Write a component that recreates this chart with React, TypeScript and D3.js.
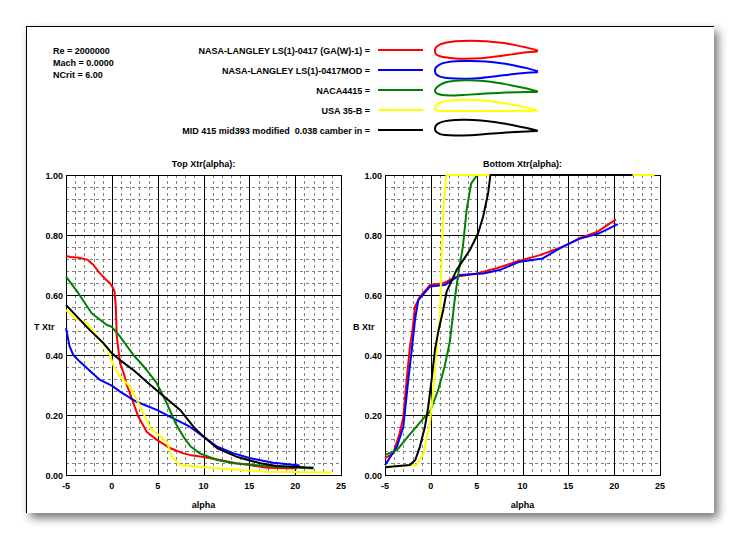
import React from 'react';
import * as d3 from 'd3';

type Pt = [number, number];

// ---------- DATA ----------
const infoLines = ['Re = 2000000', 'Mach = 0.0000', 'NCrit = 6.00'];
const seriesNames = [
  'NASA-LANGLEY LS(1)-0417 (GA(W)-1) =',
  'NASA-LANGLEY LS(1)-0417MOD =',
  'NACA4415 =',
  'USA 35-B =',
  'MID 415 mid393 modified  0.038 camber in =',
];
const seriesColors = ['#ff0000', '#0000ff', '#008000', '#ffff00', '#000000'];
const xTicks = [-5, 0, 5, 10, 15, 20, 25];
const yTicks = [0, 0.2, 0.4, 0.6, 0.8, 1.0];
const xTickLabels = ['-5', '0', '5', '10', '15', '20', '25'];
const yTickLabels = ['0.00', '0.20', '0.40', '0.60', '0.80', '1.00'];

// Top Xtr(alpha)
const topRed: Pt[] = [[-5,0.73],[-4.5,0.727],[-3.6,0.724],[-2.6,0.717],[-2,0.7],[-1.3,0.672],[-0.6,0.65],[-0.2,0.639],[0.1,0.625],[0.3,0.61],[0.43,0.561],[0.54,0.461],[0.9,0.372],[1.3,0.339],[1.63,0.3],[2.0,0.27],[2.9,0.194],[3.8,0.144],[4.9,0.117],[6.4,0.089],[7.8,0.072],[8.5,0.067],[10,0.06],[11.5,0.052],[13.6,0.039],[15,0.033],[16.9,0.024],[20.2,0.022]];
const topBlue: Pt[] = [[-5,0.489],[-4.6,0.428],[-4.2,0.4],[-3.5,0.378],[-2.7,0.356],[-1.3,0.317],[0,0.298],[0.9,0.278],[2.7,0.244],[4.9,0.217],[6.7,0.189],[8.5,0.161],[10,0.128],[11.5,0.094],[13.3,0.072],[15.1,0.056],[17.6,0.041],[20.5,0.032]];
const topGreen: Pt[] = [[-5,0.661],[-3.65,0.606],[-2.2,0.539],[-0.55,0.5],[0,0.494],[0.9,0.461],[2.35,0.4],[3.1,0.375],[3.8,0.35],[4.9,0.306],[6.0,0.239],[7.0,0.17],[7.8,0.128],[8.6,0.095],[9.6,0.072],[11.5,0.05],[13.3,0.039],[16.9,0.03],[22,0.022]];
const topYellow: Pt[] = [[-5,0.55],[-4,0.522],[-2.7,0.506],[-1.3,0.45],[-0.4,0.417],[0.17,0.365],[0.9,0.328],[2.0,0.294],[3.1,0.228],[4.2,0.156],[5.3,0.128],[6.0,0.111],[6.55,0.061],[7.45,0.033],[10,0.026],[14,0.017],[16.9,0.011],[24,0.008]];
const topBlack: Pt[] = [[-5,0.567],[-3.8,0.528],[-2.4,0.483],[-0.9,0.439],[0,0.406],[0.9,0.383],[2.35,0.35],[3.8,0.311],[5.3,0.272],[7.45,0.217],[8.9,0.161],[10,0.128],[11.5,0.089],[13.6,0.061],[16.2,0.039],[18,0.03],[22,0.024]];

// Bottom Xtr(alpha)
const botRed: Pt[] = [[-5,0.056],[-4.1,0.072],[-3.4,0.139],[-3.0,0.194],[-2.64,0.317],[-2.28,0.428],[-2.0,0.483],[-1.73,0.561],[-1.2,0.594],[-0.1,0.633],[1.35,0.639],[2.8,0.661],[5.0,0.672],[7.2,0.689],[9.3,0.711],[11.9,0.733],[14.4,0.761],[16.2,0.789],[18.2,0.811],[20.2,0.852]];
const botBlue: Pt[] = [[-5,0.033],[-3.7,0.094],[-3.0,0.161],[-2.46,0.317],[-1.84,0.483],[-1.73,0.517],[-1.37,0.583],[-0.1,0.628],[1.5,0.633],[3.2,0.667],[5.7,0.672],[7.5,0.683],[9.7,0.711],[12.2,0.722],[14.1,0.756],[16.2,0.787],[18.4,0.806],[20.4,0.836]];
const botGreen: Pt[] = [[-5,0.067],[-3.7,0.083],[-2.5,0.128],[-0.8,0.189],[-0.1,0.211],[0.8,0.283],[1.5,0.361],[2.08,0.445],[2.6,0.583],[3.0,0.672],[3.5,0.761],[3.9,0.883],[4.4,0.972],[5.0,0.997]];
const botYellow: Pt[] = [[-5,0.028],[-1.55,0.033],[-0.8,0.072],[-0.1,0.172],[0.45,0.339],[0.8,0.483],[1.0,0.528],[1.17,0.717],[1.35,0.883],[1.7,1.0],[24.4,1.0]];
const botBlack: Pt[] = [[-5,0.026],[-2.3,0.033],[-1.7,0.05],[-1.2,0.094],[-0.64,0.161],[-0.28,0.228],[0.08,0.317],[0.45,0.417],[0.81,0.478],[1.35,0.55],[1.72,0.611],[2.8,0.683],[4.26,0.75],[5.16,0.806],[5.7,0.861],[6.25,0.939],[6.5,1.0],[22,1.0]];

// Airfoil outlines (x/c, y/c)
const foilRedUpper: Pt[] = [[0,0],[0.01,0.035],[0.05,0.065],[0.1,0.08],[0.2,0.095],[0.35,0.1],[0.5,0.095],[0.65,0.08],[0.8,0.055],[0.9,0.033],[1,0.008]];
const foilRedLower: Pt[] = [[0,0],[0.01,-0.03],[0.05,-0.052],[0.1,-0.062],[0.2,-0.073],[0.3,-0.075],[0.45,-0.07],[0.6,-0.055],[0.75,-0.033],[0.9,-0.012],[1,-0.004]];
const foilBlueUpper: Pt[] = [[0,0],[0.01,0.035],[0.05,0.065],[0.1,0.082],[0.2,0.096],[0.35,0.098],[0.5,0.093],[0.65,0.077],[0.8,0.05],[0.9,0.028],[1,0.0]];
const foilBlueLower: Pt[] = [[0,0],[0.01,-0.03],[0.05,-0.055],[0.1,-0.066],[0.2,-0.074],[0.32,-0.075],[0.45,-0.068],[0.6,-0.052],[0.75,-0.032],[0.9,-0.018],[1,-0.012]];
const foilGreenUpper: Pt[] = [[0,0],[0.0125,0.03],[0.05,0.06],[0.1,0.083],[0.2,0.1],[0.3,0.105],[0.4,0.103],[0.5,0.095],[0.7,0.065],[0.9,0.025],[1,-0.002]];
const foilGreenLower: Pt[] = [[0,0],[0.0125,-0.02],[0.05,-0.035],[0.1,-0.042],[0.2,-0.043],[0.3,-0.038],[0.5,-0.025],[0.7,-0.015],[0.9,-0.01],[1,-0.01]];
const foilYellowUpper: Pt[] = [[0,0.02],[0.01,0.05],[0.05,0.078],[0.1,0.094],[0.25,0.108],[0.4,0.104],[0.6,0.085],[0.8,0.052],[0.9,0.03],[1,0.003]];
const foilYellowLower: Pt[] = [[0,0.02],[0.01,0.006],[0.05,-0.002],[0.15,-0.004],[0.4,-0.003],[0.7,-0.002],[1,0.0]];
const foilBlackUpper: Pt[] = [[0,0.017],[0.01,0.05],[0.05,0.078],[0.1,0.092],[0.2,0.103],[0.3,0.105],[0.45,0.098],[0.6,0.08],[0.8,0.045],[0.9,0.025],[1,0.0]];
const foilBlackLower: Pt[] = [[0,0.017],[0.01,-0.012],[0.05,-0.035],[0.1,-0.045],[0.2,-0.05],[0.35,-0.046],[0.5,-0.035],[0.7,-0.02],[0.9,-0.01],[1,-0.005]];

const topSeries = [topRed, topBlue, topGreen, topYellow, topBlack];
const botSeries = [botRed, botBlue, botGreen, botYellow, botBlack];
const foilUppers = [foilRedUpper, foilBlueUpper, foilGreenUpper, foilYellowUpper, foilBlackUpper];
const foilLowers = [foilRedLower, foilBlueLower, foilGreenLower, foilYellowLower, foilBlackLower];

// ---------- LAYOUT ----------
const W = 740, H = 540;
const FONT = "'Liberation Sans', Arial, sans-serif";
const plotTop = 175, plotBottom = 475;
const rowY = [50, 70, 90, 110, 130];
const foilBaseY = [51, 71, 91, 110.7, 130.5];

function Plot({ left, right, title, ylab, data }: { left: number; right: number; title: string; ylab: string; data: Pt[][] }) {
  const x = d3.scaleLinear().domain([-5, 25]).range([left, right]);
  const y = d3.scaleLinear().domain([0, 1]).range([plotBottom, plotTop]);
  const line = d3.line<Pt>().x(d => x(d[0])).y(d => y(d[1]));
  const minorX = d3.range(-5, 25.001, 1).filter(v => Math.abs(v % 5) > 1e-6);
  const minorY = d3.range(0, 1.0001, 0.04).filter(v => Math.abs(Math.round(v / 0.2) * 0.2 - v) > 1e-6);
  const textStyle = { fontFamily: FONT, fontWeight: 700, fontSize: 9 } as const;
  return (
    <g>
      {minorX.map(v => (
        <line key={'mx' + v} x1={Math.round(x(v)) + 0.5} x2={Math.round(x(v)) + 0.5} y1={plotTop} y2={plotBottom}
          stroke="#808080" strokeWidth={1} strokeDasharray="3,3" shapeRendering="crispEdges" />
      ))}
      {minorY.map(v => (
        <line key={'my' + v} y1={Math.round(y(v)) + 0.5} y2={Math.round(y(v)) + 0.5} x1={left} x2={right}
          stroke="#808080" strokeWidth={1} strokeDasharray="3,3" shapeRendering="crispEdges" />
      ))}
      {xTicks.map(v => (
        <line key={'Mx' + v} x1={Math.round(x(v)) + 0.5} x2={Math.round(x(v)) + 0.5} y1={plotTop} y2={plotBottom}
          stroke="#000" strokeWidth={1} shapeRendering="crispEdges" />
      ))}
      {yTicks.map(v => (
        <line key={'My' + v} y1={Math.round(y(v)) + 0.5} y2={Math.round(y(v)) + 0.5} x1={left} x2={right}
          stroke="#000" strokeWidth={1} shapeRendering="crispEdges" />
      ))}
      <rect x={left + 0.5} y={plotTop + 0.5} width={right - left} height={plotBottom - plotTop} fill="none" stroke="#000" strokeWidth={1} shapeRendering="crispEdges" />
      {data.map((s, i) => (
        <path key={'s' + i} d={line(s) || ''} fill="none" stroke={seriesColors[i]} strokeWidth={2} strokeLinejoin="round" />
      ))}
      {yTicks.map((v, i) => (
        <text key={'yt' + v} x={left - 3} y={y(v) + 3.5} textAnchor="end" style={textStyle}>{yTickLabels[i]}</text>
      ))}
      {xTicks.map((v, i) => (
        <text key={'xt' + v} x={x(v)} y={489} textAnchor="middle" style={textStyle}>{xTickLabels[i]}</text>
      ))}
      <text x={(left + right) / 2} y={508} textAnchor="middle" style={textStyle}>alpha</text>
      <text x={(left + right) / 2} y={167} textAnchor="middle" style={textStyle}>{title}</text>
      <text x={left - 32} y={330} style={textStyle}>{ylab}</text>
    </g>
  );
}

function Foil({ i }: { i: number }) {
  const fx = d3.scaleLinear().domain([0, 1]).range([435, 537]);
  const fy = d3.scaleLinear().domain([0, 1]).range([foilBaseY[i], foilBaseY[i] - 102]);
  const pts: Pt[] = [...foilUppers[i].slice().reverse(), ...foilLowers[i].slice(1)];
  const line = d3.line<Pt>().x(d => fx(d[0])).y(d => fy(d[1])).curve(d3.curveCatmullRom.alpha(0.5));
  return <path d={(line(pts) || '') + 'Z'} fill="none" stroke={seriesColors[i]} strokeWidth={2} strokeLinejoin="round" />;
}

export default function App() {
  const textStyle = { fontFamily: FONT, fontWeight: 700, fontSize: 9, whiteSpace: 'pre' } as const;
  return (
    <svg width={W} height={H} style={{ position: 'absolute', left: 0, top: 0, background: '#fff' }}>
      <defs>
        <filter id="shadow" x="-10%" y="-10%" width="120%" height="120%">
          <feDropShadow dx="4" dy="5" stdDeviation="5" floodColor="#000" floodOpacity="0.55" />
        </filter>
      </defs>
      <rect x={0} y={0} width={W} height={H} fill="#fff" />
      <rect x={26} y={26} width={688} height={487} fill="#fff" filter="url(#shadow)" />
      <line x1={26.5} y1={26} x2={26.5} y2={513} stroke="#000" strokeWidth={1} />
      <line x1={26} y1={26.5} x2={714} y2={26.5} stroke="#000" strokeWidth={1} />

      {infoLines.map((t, i) => (
        <text key={t} x={53} y={54 + i * 12} style={textStyle}>{t}</text>
      ))}
      {seriesNames.map((n, i) => (
        <g key={n}>
          <text x={370} y={rowY[i] + 3.5} textAnchor="end" xmlSpace="preserve" style={textStyle}>{n}</text>
          <line x1={378} x2={423} y1={rowY[i]} y2={rowY[i]} stroke={seriesColors[i]} strokeWidth={2} />
          <Foil i={i} />
        </g>
      ))}

      <Plot left={66} right={341} title="Top Xtr(alpha):" ylab="T Xtr" data={topSeries} />
      <Plot left={385} right={660} title="Bottom Xtr(alpha):" ylab="B Xtr" data={botSeries} />
    </svg>
  );
}
